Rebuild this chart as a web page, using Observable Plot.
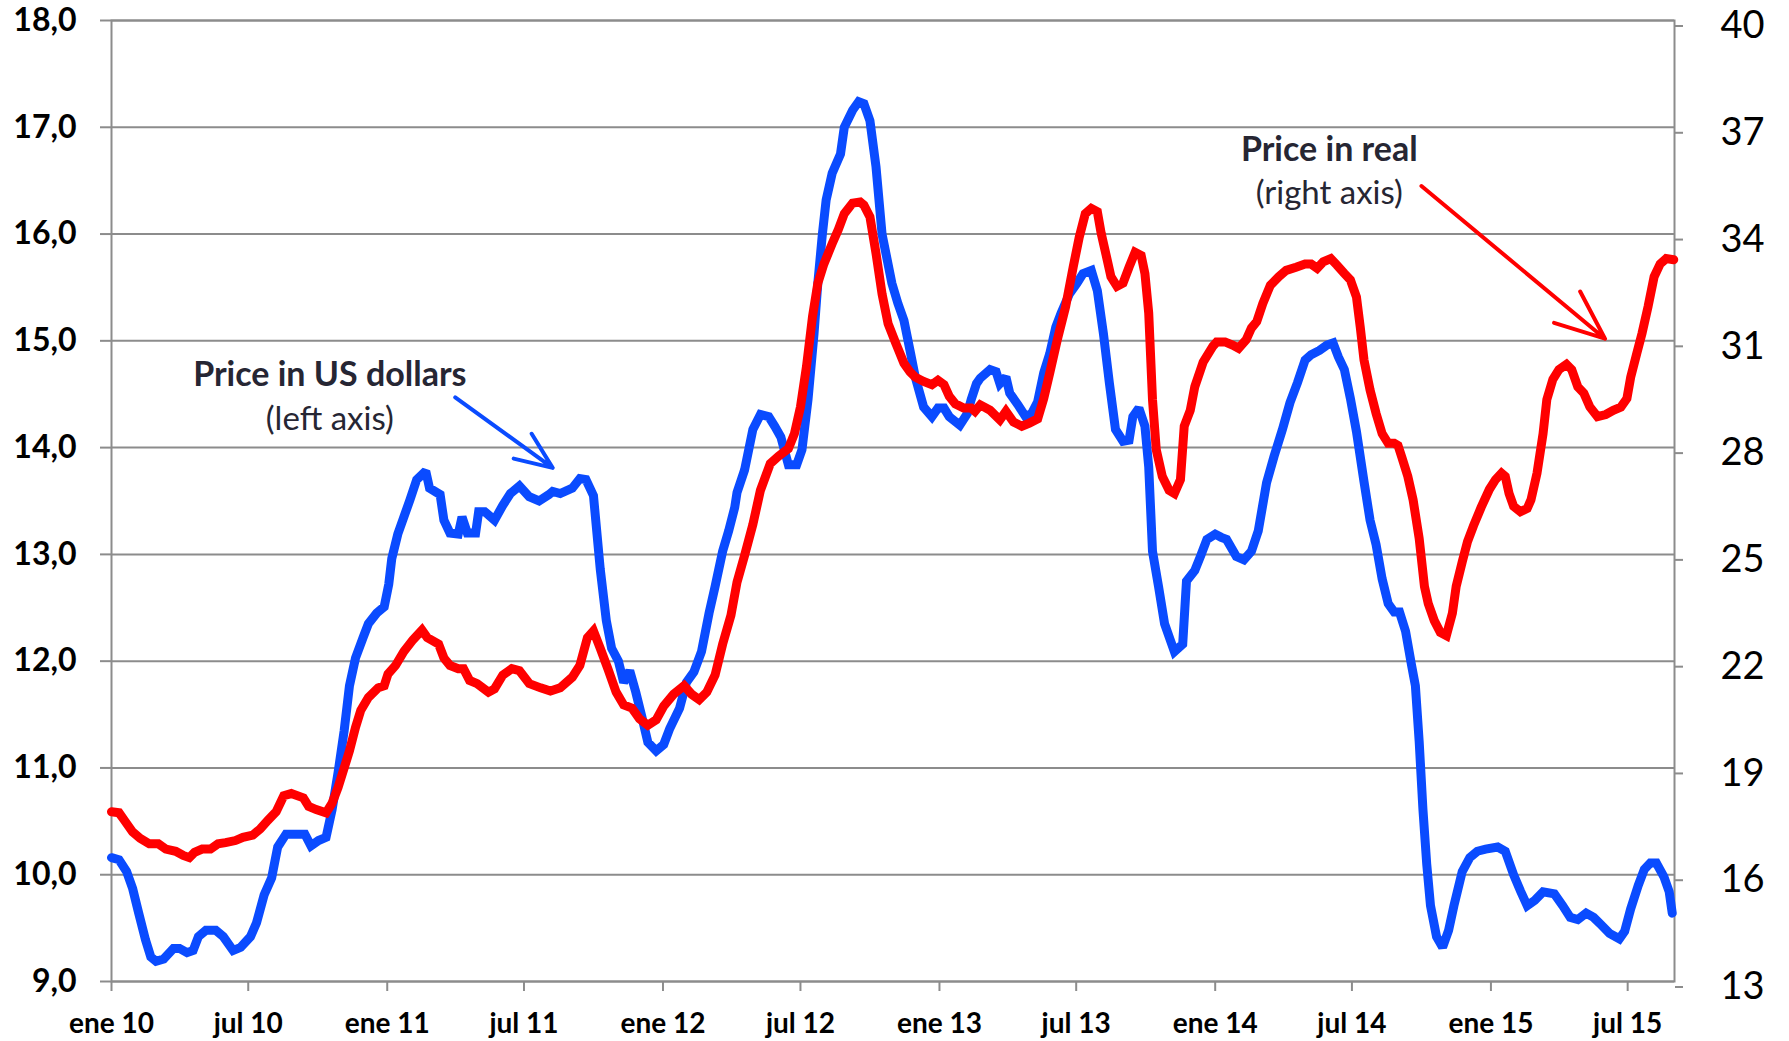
<!DOCTYPE html>
<html>
<head>
<meta charset="utf-8">
<script src="https://cdn.jsdelivr.net/npm/d3@7"></script>
<script src="https://cdn.jsdelivr.net/npm/@observablehq/plot@0.6"></script>
<style>
  body { margin: 0; background: #fff; }
  #chart { width: 1789px; height: 1041px; }
</style>
</head>
<body>
<div id="chart"></div>
<script>
// ---- Data: price in US dollars (left axis) ----
const usdDates = ["2010-01-01","2010-01-11","2010-01-21","2010-01-29","2010-02-06","2010-02-15","2010-02-22","2010-03-01","2010-03-11","2010-03-24","2010-04-01","2010-04-11","2010-04-19","2010-04-26","2010-05-06","2010-05-19","2010-05-29","2010-06-11","2010-06-21","2010-07-04","2010-07-12","2010-07-22","2010-08-01","2010-08-09","2010-08-20","2010-09-02","2010-09-14","2010-09-22","2010-10-02","2010-10-12","2010-10-20","2010-10-28","2010-11-05","2010-11-12","2010-11-20","2010-11-30","2010-12-07","2010-12-18","2010-12-28","2011-01-03","2011-01-07","2011-01-15","2011-01-23","2011-01-31","2011-02-09","2011-02-21","2011-02-26","2011-03-12","2011-03-17","2011-03-25","2011-04-05","2011-04-10","2011-04-17","2011-04-28","2011-05-02","2011-05-10","2011-05-23","2011-06-03","2011-06-13","2011-06-25","2011-07-08","2011-07-21","2011-08-03","2011-08-08","2011-08-18","2011-09-03","2011-09-13","2011-09-21","2011-10-01","2011-10-10","2011-10-18","2011-10-25","2011-11-03","2011-11-10","2011-11-18","2011-11-26","2011-12-04","2011-12-12","2011-12-23","2012-01-02","2012-01-10","2012-01-23","2012-02-01","2012-02-11","2012-02-21","2012-03-02","2012-03-10","2012-03-20","2012-03-28","2012-04-05","2012-04-08","2012-04-18","2012-04-29","2012-05-09","2012-05-20","2012-05-28","2012-06-05","2012-06-15","2012-06-26","2012-07-03","2012-07-11","2012-07-19","2012-07-24","2012-07-30","2012-08-04","2012-08-12","2012-08-23","2012-08-28","2012-09-08","2012-09-16","2012-09-23","2012-10-01","2012-10-09","2012-10-17","2012-10-30","2012-11-07","2012-11-15","2012-11-23","2012-11-30","2012-12-11","2012-12-22","2012-12-30","2013-01-07","2013-01-14","2013-01-28","2013-02-07","2013-02-12","2013-02-19","2013-02-24","2013-03-09","2013-03-17","2013-03-22","2013-03-30","2013-04-04","2013-04-15","2013-04-25","2013-05-03","2013-05-11","2013-05-19","2013-05-27","2013-06-04","2013-06-11","2013-06-22","2013-07-02","2013-07-10","2013-07-21","2013-07-29","2013-08-06","2013-08-14","2013-08-22","2013-09-01","2013-09-09","2013-09-14","2013-09-22","2013-09-30","2013-10-05","2013-10-10","2013-10-18","2013-10-26","2013-11-03","2013-11-08","2013-11-19","2013-11-24","2013-12-05","2013-12-13","2013-12-21","2014-01-01","2014-01-09","2014-01-16","2014-01-29","2014-02-08","2014-02-18","2014-02-27","2014-03-10","2014-03-20","2014-03-31","2014-04-10","2014-04-20","2014-04-30","2014-05-08","2014-05-19","2014-05-29","2014-06-06","2014-06-13","2014-06-21","2014-06-29","2014-07-07","2014-07-17","2014-07-25","2014-08-02","2014-08-10","2014-08-18","2014-08-26","2014-09-02","2014-09-10","2014-09-18","2014-09-23","2014-09-28","2014-10-03","2014-10-08","2014-10-13","2014-10-21","2014-10-29","2014-11-06","2014-11-13","2014-11-24","2014-12-04","2014-12-14","2014-12-25","2015-01-10","2015-01-20","2015-01-31","2015-02-09","2015-02-18","2015-02-28","2015-03-11","2015-03-26","2015-04-06","2015-04-16","2015-04-26","2015-05-07","2015-05-17","2015-05-27","2015-06-07","2015-06-20","2015-06-27","2015-07-05","2015-07-15","2015-07-23","2015-07-31","2015-08-08","2015-08-18","2015-08-25","2015-08-29"];
const usdValues = [10.16,10.14,10.03,9.87,9.64,9.39,9.23,9.19,9.21,9.31,9.31,9.27,9.29,9.42,9.48,9.48,9.42,9.29,9.32,9.42,9.55,9.81,9.97,10.26,10.38,10.38,10.38,10.27,10.32,10.35,10.61,10.96,11.35,11.77,12.03,12.22,12.35,12.45,12.51,12.72,12.96,13.19,13.35,13.51,13.70,13.78,13.62,13.56,13.32,13.20,13.19,13.35,13.20,13.20,13.40,13.40,13.32,13.46,13.57,13.64,13.54,13.50,13.56,13.59,13.57,13.62,13.71,13.70,13.55,12.86,12.38,12.12,12.00,11.80,11.91,11.71,11.48,11.24,11.16,11.22,11.37,11.56,11.80,11.90,12.09,12.45,12.70,13.03,13.22,13.44,13.58,13.79,14.17,14.31,14.29,14.20,14.10,13.84,13.84,13.98,14.45,15.07,15.54,16.00,16.32,16.57,16.75,17.00,17.16,17.24,17.22,17.06,16.63,16.00,15.54,15.35,15.19,14.91,14.66,14.38,14.29,14.37,14.37,14.29,14.21,14.32,14.45,14.60,14.65,14.73,14.71,14.60,14.66,14.51,14.40,14.29,14.32,14.43,14.70,14.88,15.13,15.26,15.44,15.54,15.63,15.66,15.47,15.07,14.60,14.17,14.06,14.07,14.29,14.37,14.20,13.82,13.03,12.70,12.35,12.19,12.09,12.16,12.75,12.85,12.99,13.14,13.19,13.16,13.14,12.98,12.95,13.03,13.22,13.67,13.92,14.17,14.42,14.61,14.82,14.87,14.91,14.96,14.98,14.85,14.73,14.46,14.15,13.68,13.32,13.09,12.77,12.54,12.46,12.46,12.28,11.96,11.77,11.25,10.61,10.10,9.71,9.42,9.32,9.48,9.71,10.03,10.16,10.22,10.24,10.26,10.22,10.00,9.85,9.71,9.76,9.84,9.82,9.71,9.60,9.58,9.64,9.60,9.53,9.45,9.40,9.47,9.68,9.90,10.05,10.11,10.11,9.98,9.84,9.64];

// ---- Data: price in real (right axis) ----
const realDates = ["2010-01-01","2010-01-11","2010-01-18","2010-01-29","2010-02-08","2010-02-20","2010-03-04","2010-03-14","2010-03-27","2010-04-06","2010-04-14","2010-04-21","2010-05-01","2010-05-12","2010-05-22","2010-06-01","2010-06-14","2010-06-24","2010-07-07","2010-07-17","2010-07-27","2010-08-07","2010-08-17","2010-08-27","2010-09-12","2010-09-19","2010-09-29","2010-10-12","2010-10-20","2010-10-28","2010-11-05","2010-11-12","2010-11-20","2010-11-27","2010-12-07","2010-12-20","2010-12-28","2011-01-02","2011-01-12","2011-01-23","2011-02-04","2011-02-16","2011-02-23","2011-03-10","2011-03-17","2011-03-25","2011-04-05","2011-04-12","2011-04-20","2011-04-30","2011-05-15","2011-05-23","2011-06-03","2011-06-15","2011-06-25","2011-07-08","2011-07-23","2011-08-05","2011-08-18","2011-09-03","2011-09-13","2011-09-23","2011-10-01","2011-10-10","2011-10-20","2011-10-31","2011-11-10","2011-11-21","2011-12-01","2011-12-12","2011-12-23","2012-01-02","2012-01-15","2012-01-29","2012-02-08","2012-02-18","2012-02-28","2012-03-10","2012-03-20","2012-03-31","2012-04-08","2012-04-18","2012-04-29","2012-05-09","2012-05-22","2012-06-02","2012-06-15","2012-06-23","2012-07-01","2012-07-09","2012-07-17","2012-07-24","2012-08-01","2012-08-12","2012-08-20","2012-08-28","2012-09-08","2012-09-18","2012-09-23","2012-10-01","2012-10-09","2012-10-17","2012-10-25","2012-11-04","2012-11-15","2012-11-23","2012-11-30","2012-12-11","2012-12-22","2012-12-30","2013-01-07","2013-01-14","2013-01-22","2013-02-02","2013-02-12","2013-02-17","2013-02-24","2013-03-09","2013-03-22","2013-03-30","2013-04-09","2013-04-20","2013-04-30","2013-05-11","2013-05-19","2013-05-27","2013-06-06","2013-06-17","2013-06-27","2013-07-05","2013-07-13","2013-07-21","2013-07-29","2013-08-03","2013-08-11","2013-08-16","2013-08-24","2013-09-01","2013-09-09","2013-09-17","2013-09-25","2013-09-30","2013-10-05","2013-10-10","2013-10-15","2013-10-23","2013-11-01","2013-11-08","2013-11-16","2013-11-21","2013-11-29","2013-12-05","2013-12-16","2013-12-29","2014-01-03","2014-01-14","2014-01-24","2014-02-01","2014-02-11","2014-02-18","2014-02-25","2014-03-05","2014-03-15","2014-03-26","2014-04-05","2014-04-18","2014-04-30","2014-05-08","2014-05-16","2014-05-24","2014-06-03","2014-06-11","2014-06-21","2014-06-29","2014-07-07","2014-07-12","2014-07-17","2014-07-25","2014-08-02","2014-08-10","2014-08-18","2014-08-26","2014-08-31","2014-09-05","2014-09-13","2014-09-20","2014-09-28","2014-10-05","2014-10-10","2014-10-18","2014-10-26","2014-11-03","2014-11-11","2014-11-16","2014-11-24","2014-12-01","2014-12-09","2014-12-19","2014-12-30","2015-01-07","2015-01-15","2015-01-20","2015-01-25","2015-01-31","2015-02-09","2015-02-18","2015-02-23","2015-03-03","2015-03-11","2015-03-16","2015-03-24","2015-04-01","2015-04-11","2015-04-18","2015-04-26","2015-05-04","2015-05-12","2015-05-22","2015-06-02","2015-06-12","2015-06-22","2015-06-30","2015-07-05","2015-07-13","2015-07-20","2015-07-28","2015-08-05","2015-08-13","2015-08-21","2015-08-31"];
const realValues = [17.77,17.74,17.53,17.20,17.02,16.87,16.87,16.72,16.66,16.54,16.48,16.63,16.72,16.72,16.87,16.90,16.96,17.05,17.11,17.29,17.53,17.77,18.22,18.28,18.16,17.92,17.83,17.74,18.01,18.46,19.00,19.48,20.14,20.62,20.98,21.25,21.31,21.64,21.88,22.27,22.60,22.87,22.66,22.48,22.09,21.88,21.79,21.79,21.46,21.37,21.13,21.22,21.61,21.79,21.73,21.37,21.25,21.16,21.25,21.55,21.88,22.66,22.85,22.36,21.79,21.13,20.77,20.68,20.38,20.20,20.35,20.74,21.07,21.31,21.07,20.92,21.13,21.61,22.48,23.29,24.22,24.97,25.84,26.80,27.55,27.76,27.97,28.39,29.14,30.28,31.69,32.62,33.16,33.73,34.12,34.57,34.87,34.90,34.81,34.48,33.46,32.32,31.48,30.94,30.37,30.13,29.98,29.86,29.77,29.89,29.77,29.44,29.23,29.11,29.11,29.02,29.20,29.05,28.78,29.02,28.72,28.60,28.69,28.81,29.38,30.10,31.03,31.96,33.07,33.91,34.57,34.72,34.63,34.03,33.28,32.80,32.53,32.62,33.07,33.49,33.40,32.89,31.78,29.35,27.94,27.19,26.80,26.71,27.10,28.60,29.05,29.71,30.40,30.85,30.97,30.97,30.88,30.79,31.03,31.36,31.54,32.05,32.56,32.80,32.98,33.07,33.16,33.16,33.04,33.22,33.31,33.13,32.89,32.71,32.23,31.39,30.46,29.62,28.96,28.39,28.12,28.12,28.06,27.73,27.19,26.53,25.45,24.10,23.62,23.14,22.81,22.72,23.35,24.10,24.79,25.36,25.81,26.32,26.83,27.10,27.28,27.19,26.71,26.35,26.20,26.29,26.53,27.28,28.39,29.35,29.92,30.19,30.34,30.19,29.71,29.53,29.14,28.87,28.93,29.05,29.14,29.38,29.98,30.64,31.21,31.96,32.80,33.16,33.31,33.28];

// ---- Axes ----
const leftTicks = [9, 10, 11, 12, 13, 14, 15, 16, 17, 18];
const leftTickLabels = ["9,0","10,0","11,0","12,0","13,0","14,0","15,0","16,0","17,0","18,0"];
const rightTicks = [13, 16, 19, 22, 25, 28, 31, 34, 37, 40];
const xTickDates = ["2010-01-01","2010-07-01","2011-01-01","2011-07-01","2012-01-01","2012-07-01","2013-01-01","2013-07-01","2014-01-01","2014-07-01","2015-01-01","2015-07-01"];
const xTickLabels = ["ene 10","jul 10","ene 11","jul 11","ene 12","jul 12","ene 13","jul 13","ene 14","jul 14","ene 15","jul 15"];
const xDomain = ["2010-01-01", "2015-09-01"];

// ---- Annotations ----
const annotTitles = ["Price in US dollars", "Price in real"];
const annotSubtitles = ["(left axis)", "(right axis)"];
const annotDates = ["2010-10-17", "2014-06-01"];
const annotTitleY = [14.68, 16.79];
const annotSubY = [14.26, 16.38];
const arrowFromDates = ["2011-04-01", "2014-10-01"];
const arrowFromY = [14.47, 16.45];
const arrowToDates = ["2011-08-08", "2015-06-01"];
const arrowToY = [13.81, 15.02];
const arrowColors = ["#0a4bff", "#ff0000"];

// ---- Build tables ----
const parse = s => new Date(s + "T00:00:00Z");
// right-axis value r maps onto the left scale: first right tick <-> first left tick, step ratio from the tick arrays
const rStep = (rightTicks[1] - rightTicks[0]) / (leftTicks[1] - leftTicks[0]);
const toLeft = r => leftTicks[0] + (r - rightTicks[0]) / rStep;

const usd = usdDates.map((d, i) => ({date: parse(d), value: usdValues[i]}));
const real = realDates.map((d, i) => ({date: parse(d), value: toLeft(realValues[i])}));
const annots = annotTitles.map((t, i) => ({title: t, sub: annotSubtitles[i], date: parse(annotDates[i]), ty: annotTitleY[i], sy: annotSubY[i]}));
const arrows = arrowFromDates.map((d, i) => ({x1: parse(d), y1: arrowFromY[i], x2: parse(arrowToDates[i]), y2: arrowToY[i], color: arrowColors[i]}));

const grid = "#8c8c8c";

const chart = Plot.plot({
  width: 1789,
  height: 1041,
  marginLeft: 111,
  marginRight: 115,
  marginTop: 20,
  marginBottom: 60,
  style: {fontFamily: "Lato, 'Open Sans', sans-serif", color: "#000", background: "#fff", overflow: "visible"},
  x: {type: "utc", domain: xDomain.map(parse)},
  y: {domain: [leftTicks[0], leftTicks[leftTicks.length - 1]]},
  marks: [
    Plot.gridY(leftTicks, {stroke: grid, strokeOpacity: 1, strokeWidth: 2}),
    Plot.frame({stroke: grid, strokeWidth: 2}),
    Plot.axisY({anchor: "left", ticks: leftTicks, tickFormat: (d, i) => leftTickLabels[i], tickSize: 11, tickPadding: 24, fontSize: 32, fontWeight: "bold", stroke: grid, strokeWidth: 2, label: null}),
    Plot.axisY({anchor: "right", ticks: leftTicks, tickFormat: (d, i) => String(rightTicks[i]), tickSize: 8, tickPadding: 38, fontSize: 38, dy: 5.5, stroke: grid, strokeWidth: 2, label: null}),
    Plot.axisX({ticks: xTickDates.map(parse), tickFormat: (d, i) => xTickLabels[i], tickSize: 10, tickPadding: 22, fontSize: 28, fontWeight: "bold", stroke: grid, strokeWidth: 2, label: null}),
    Plot.line(usd, {x: "date", y: "value", stroke: "#0a4bff", strokeWidth: 9, strokeLinejoin: "miter", strokeMiterlimit: 2}),
    Plot.line(real, {x: "date", y: "value", stroke: "#ff0000", strokeWidth: 9, strokeLinejoin: "miter", strokeMiterlimit: 2}),
    Plot.arrow(arrows, {x1: "x1", y1: "y1", x2: "x2", y2: "y2", stroke: d => d.color, strokeWidth: 4, headLength: 20, headAngle: 45}),
    Plot.text(annots, {x: "date", y: "ty", text: "title", fontSize: 34, fontWeight: "bold", fill: "#262633", textAnchor: "middle"}),
    Plot.text(annots, {x: "date", y: "sy", text: "sub", fontSize: 33, fill: "#262633", textAnchor: "middle"})
  ]
});
document.getElementById("chart").appendChild(chart);
</script>
</body>
</html>
